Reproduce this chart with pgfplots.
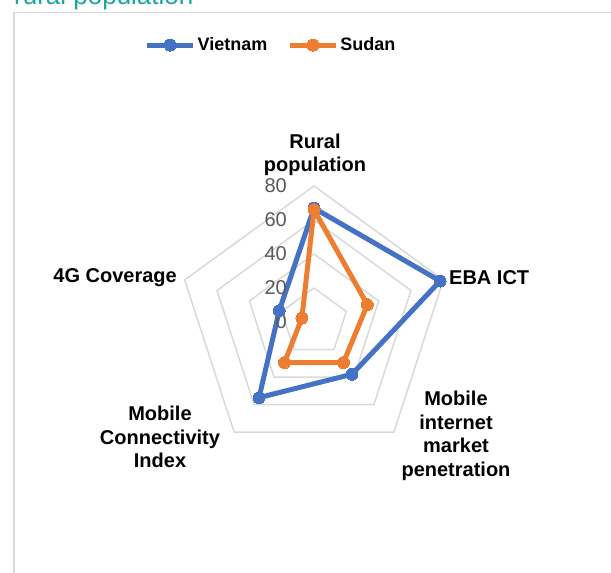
\documentclass[border=0pt]{standalone}
\usepackage{fontspec}
\setmainfont{Liberation Sans}
\usepackage{pgfplots}
\pgfplotsset{compat=1.18}
\usepgfplotslibrary{polar}
\definecolor{vblue}{HTML}{4472C4}
\definecolor{sorange}{HTML}{ED7D31}
\definecolor{gridgray}{HTML}{D9D9D9}
\definecolor{tickgray}{HTML}{595959}
\definecolor{titleteal}{HTML}{1AA5A0}
\begin{document}
\begin{tikzpicture}[x=1pt,y=1pt]
\useasboundingbox (0,0) rectangle (611,573);
\draw[gridgray, line width=1.5pt] (14,-5) rectangle (620,560.5);
\node[anchor=base west, text=titleteal, font=\fontsize{26}{30}\selectfont, inner sep=0] at (14,568) {rural population};
\begin{polaraxis}[
  at={(314pt,251pt)}, anchor=center,
  scale only axis, width=272pt, height=272pt,
  xmin=0, xmax=360,
  ymin=0, ymax=80,
  hide axis,
  clip=false,
  legend style={at={(0.342,1.518)}, anchor=center, draw=none, fill=none, legend columns=2,
    font=\bfseries\fontsize{18}{22}\selectfont,
    /tikz/every even column/.append style={column sep=18pt}},
  legend image code/.code={\draw[mark repeat=2,mark phase=2] plot coordinates {(0pt,0pt)(23pt,0pt)(46pt,0pt)};},
]
\foreach \r in {20,40,60,80}{
  \edef\temp{\noexpand\addplot[gridgray, line width=1.5pt, no markers, forget plot] coordinates {(90,\r) (18,\r) (306,\r) (234,\r) (162,\r) (90,\r)};}
  \temp
}
\addplot[vblue, line width=5pt, line join=round, mark=*, mark size=6pt, mark options={solid, fill=vblue, line width=0pt}]
  coordinates {(90,67) (18,78) (306,38) (234,55) (162,21.5) (90,67)};
\addlegendentry{Vietnam}
\addplot[sorange, line width=5pt, line join=round, mark=*, mark size=6pt, mark options={solid, fill=sorange, line width=0pt}]
  coordinates {(90,66) (18,33) (306,29.5) (234,29.5) (162,7.5) (90,66)};
\addlegendentry{Sudan}
\foreach \v in {0,20,40,60,80}{
  \edef\temp{\noexpand\node[anchor=east, inner sep=0pt, xshift=-27pt, text=tickgray, font=\noexpand\fontsize{20}{24}\noexpand\selectfont] at (axis cs:90,\v) {\v};}
  \temp
}
\end{polaraxis}
\begin{scope}[every node/.style={font=\bfseries\fontsize{20}{23.5}\selectfont, align=center, inner sep=0pt}]
\node at (315,418) {Rural\\population};
\node[anchor=west] at (449,295) {EBA ICT};
\node[anchor=east] at (177,295) {4G Coverage};
\node at (456,137) {Mobile\\internet\\market\\penetration};
\node at (160,136) {Mobile\\Connectivity\\Index};
\end{scope}
\end{tikzpicture}
\end{document}
